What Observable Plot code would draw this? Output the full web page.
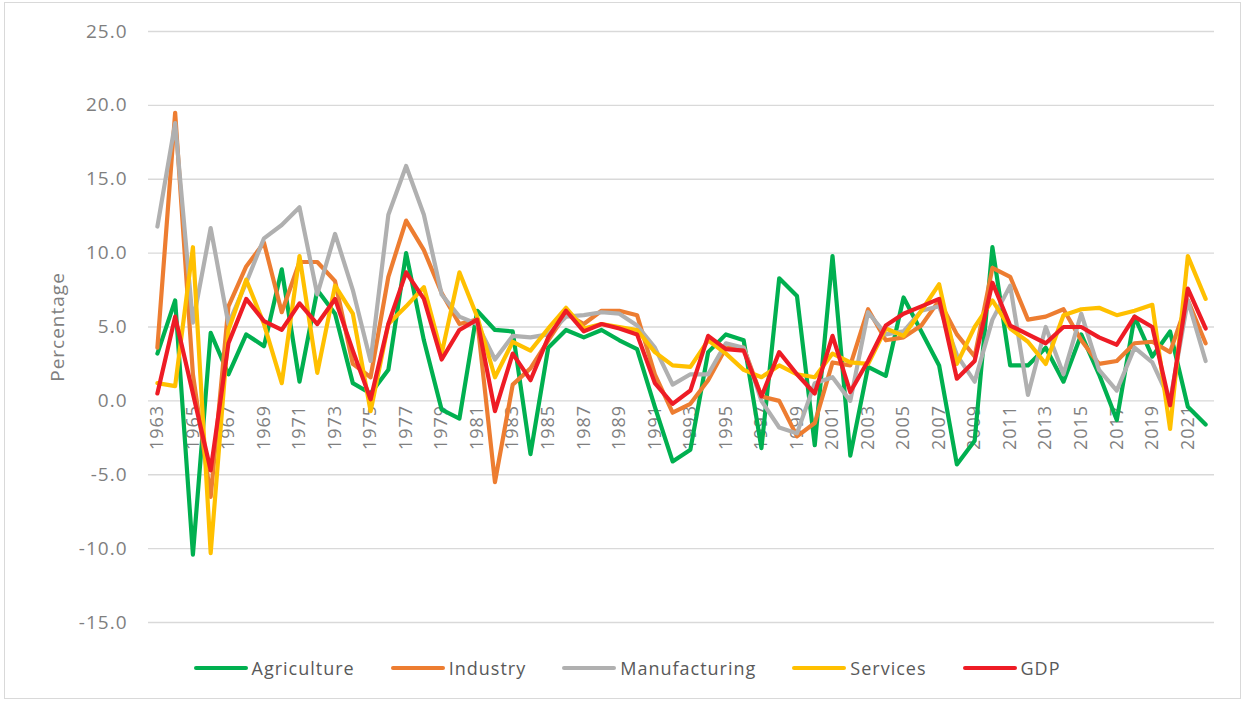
<!DOCTYPE html>
<html>
<head>
<meta charset="utf-8">
<script src="https://cdn.jsdelivr.net/npm/d3@7"></script>
<script src="https://cdn.jsdelivr.net/npm/@observablehq/plot@0.6"></script>
<style>
  html, body { margin: 0; padding: 0; background: #fff; }
  #wrap { position: relative; width: 1244px; height: 702px; overflow: hidden; font-family: "Open Sans", sans-serif; }
  #frame { position: absolute; left: 4px; top: 2px; width: 1237px; height: 697px; border: 1px solid #d9d9d9; box-sizing: border-box; pointer-events: none; }
  #chart { position: absolute; left: 0; top: 0; }
  #chart text { letter-spacing: 1px; }
  #legend { position: absolute; left: 0; top: 655px; width: 1244px; display: flex; justify-content: center; gap: 36px; font-size: 18px; letter-spacing: 1px; color: #595959; line-height: 26px; padding-left: 10px; box-sizing: border-box; }
  .item { display: flex; align-items: center; }
  .sw { width: 54px; height: 4px; border-radius: 2px; margin-right: 4px; }
</style>
</head>
<body>
<div id="wrap">
  <div id="frame"></div>
  <div id="chart"></div>
  <div id="legend"></div>
</div>
<script>
const years = d3.range(1963, 2023);
const seriesNames = ["Agriculture", "Industry", "Manufacturing", "Services", "GDP"];
const seriesColors = ["#00B050", "#ED7D31", "#B0B0B0", "#FFC000", "#EE1C25"];

const agriculture = [3.2, 6.8, -10.4, 4.6, 1.8, 4.5, 3.7, 8.9, 1.3, 7.5,
  5.9, 1.2, 0.5, 2.1, 10.0, 4.1, -0.6, -1.2, 6.1, 4.8,
  4.7, -3.6, 3.6, 4.8, 4.3, 4.8, 4.1, 3.5, -0.4, -4.1,
  -3.3, 3.3, 4.5, 4.1, -3.2, 8.3, 7.1, -3.0, 9.8, -3.7,
  2.3, 1.7, 7.0, 4.7, 2.4, -4.3, -2.7, 10.4, 2.4, 2.4,
  3.6, 1.3, 4.5, 1.8, -1.3, 5.7, 3.0, 4.7, -0.4, -1.6];
const industry = [3.6, 19.5, 1.8, -6.5, 6.4, 9.1, 10.7, 6.0, 9.4, 9.4,
  8.1, 2.5, 1.6, 8.4, 12.2, 10.2, 7.3, 5.2, 5.5, -5.5,
  1.1, 2.2, 4.1, 5.9, 5.2, 6.1, 6.1, 5.8, 1.8, -0.8,
  -0.2, 1.4, 3.6, 3.6, 0.3, 0.0, -2.4, -1.5, 2.6, 2.4,
  6.2, 4.1, 4.3, 5.1, 6.8, 4.5, 3.0, 9.0, 8.4, 5.5,
  5.7, 6.2, 4.1, 2.5, 2.7, 3.9, 4.0, 3.3, 6.8, 3.9];
const manufacturing = [11.8, 18.8, 5.3, 11.7, 5.2, 8.0, 11.0, 11.9, 13.1, 7.2,
  11.3, 7.5, 2.7, 12.6, 15.9, 12.6, 7.2, 5.7, 5.2, 2.8,
  4.4, 4.3, 4.5, 5.7, 5.8, 6.0, 5.9, 5.1, 3.6, 1.1,
  1.8, 1.8, 3.9, 3.6, 0.0, -1.8, -2.2, 1.2, 1.6, 0.0,
  6.0, 4.5, 4.7, 6.1, 6.4, 3.1, 1.3, 5.5, 7.8, 0.4,
  5.0, 1.8, 5.9, 2.1, 0.7, 3.6, 2.6, 0.0, 6.8, 2.7];
const services = [1.2, 1.0, 10.4, -10.3, 4.8, 8.2, 5.2, 1.2, 9.8, 1.9,
  7.8, 5.9, -0.7, 5.2, 6.4, 7.7, 3.2, 8.7, 5.7, 1.6,
  4.0, 3.4, 4.9, 6.3, 4.9, 5.2, 5.0, 4.8, 3.3, 2.4,
  2.3, 4.1, 3.2, 2.1, 1.6, 2.4, 1.8, 1.6, 3.2, 2.6,
  2.5, 4.9, 4.4, 6.1, 7.9, 2.5, 5.0, 6.8, 4.9, 4.0,
  2.5, 5.8, 6.2, 6.3, 5.8, 6.1, 6.5, -1.9, 9.8, 6.9];
const gdp = [0.5, 5.7, 0.5, -4.7, 3.9, 6.9, 5.4, 4.8, 6.6, 5.2,
  6.9, 3.4, 0.1, 5.2, 8.7, 6.9, 2.8, 4.8, 5.5, -0.7,
  3.2, 1.4, 4.3, 6.1, 4.7, 5.2, 4.9, 4.5, 1.2, -0.2,
  0.7, 4.4, 3.5, 3.4, 0.3, 3.3, 1.8, 0.5, 4.4, 0.6,
  2.7, 5.1, 5.9, 6.4, 6.9, 1.5, 2.7, 8.0, 5.1, 4.5,
  3.9, 5.0, 5.0, 4.3, 3.8, 5.7, 5.0, -0.3, 7.6, 4.9];

const yTicks = [-15, -10, -5, 0, 5, 10, 15, 20, 25];
const xLabels = years.filter(y => (y - 1963) % 2 === 0);

const seriesValues = [agriculture, industry, manufacturing, services, gdp];
const rows = seriesNames.flatMap((name, i) =>
  years.map((yr, j) => ({series: name, year: yr, value: seriesValues[i][j]})));

const chart = Plot.plot({
  width: 1244,
  height: 640,
  marginLeft: 148,
  marginRight: 30,
  marginTop: 31,
  marginBottom: 18,
  style: {fontFamily: "'Open Sans', sans-serif", color: "#7f7f7f", background: "transparent"},
  x: {domain: [1962.5, 2022.5], axis: null},
  y: {domain: [-15, 25], axis: null},
  color: {domain: seriesNames, range: seriesColors},
  marks: [
    Plot.ruleY(yTicks, {stroke: "#d9d9d9", strokeWidth: 1.3}),
    Plot.axisY({ticks: yTicks, label: null, tickSize: 0, tickPadding: 21, tickFormat: d => d.toFixed(1), fontSize: 19, fill: "#7f7f7f"}),
    Plot.text(["Percentage"], {frameAnchor: "left", textAnchor: "middle", dx: -91, rotate: -90, fontSize: 19, fill: "#7f7f7f"}),
    Plot.text(xLabels, {x: d => d, y: 0, text: d => String(d), rotate: -90, textAnchor: "end", dy: 4, fontSize: 18, fill: "#7f7f7f"}),
    Plot.line(rows, {x: "year", y: "value", z: "series", stroke: "series", strokeWidth: 4.2, strokeLinejoin: "round", strokeLinecap: "round"})
  ]
});
document.getElementById("chart").appendChild(chart);

const legend = document.getElementById("legend");
seriesNames.forEach((name, i) => {
  const item = document.createElement("div");
  item.className = "item";
  const sw = document.createElement("div");
  sw.className = "sw";
  sw.style.background = seriesColors[i];
  const label = document.createElement("span");
  label.textContent = name;
  item.appendChild(sw);
  item.appendChild(label);
  legend.appendChild(item);
});
</script>
</body>
</html>
